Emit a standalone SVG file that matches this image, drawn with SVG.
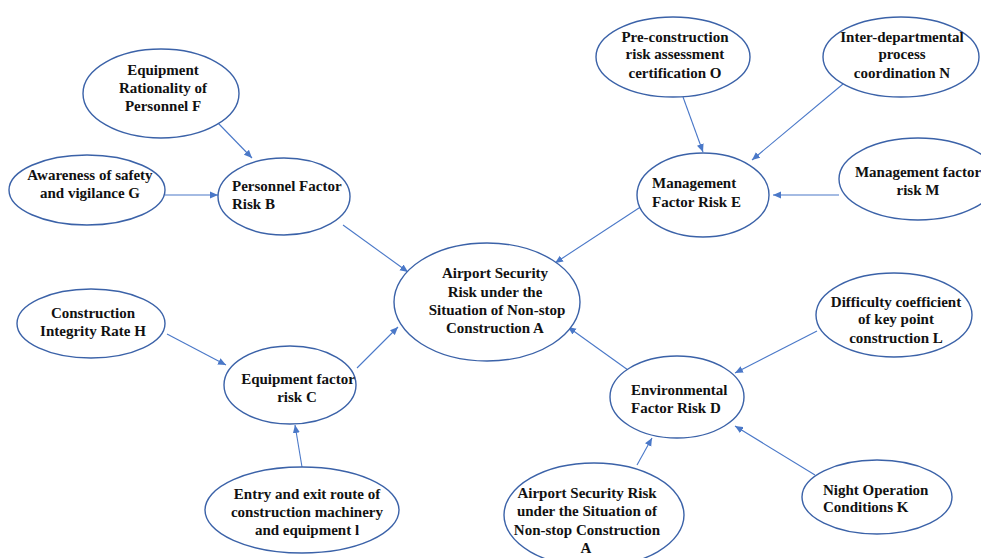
<svg xmlns="http://www.w3.org/2000/svg" width="981" height="558" viewBox="0 0 981 558">
<style>
.n ellipse{fill:#fff;stroke:#3B62A8;stroke-width:1.4}
.n text{font-family:"Liberation Serif","Times New Roman",serif;font-weight:bold;font-size:15px;fill:#111;text-anchor:middle}
.n text.l{text-anchor:start}
#edges line{stroke:#4A78C8;stroke-width:1.1;marker-end:url(#ah)}
</style>
<defs>
<marker id="ah" markerUnits="userSpaceOnUse" markerWidth="9" markerHeight="8" refX="8" refY="4" orient="auto">
<path d="M0,0.5 L8,4 L0,7.5 z" fill="#4A78C8"/>
</marker>
</defs>
<rect width="981" height="558" fill="#fff"/>
<g id="edges">
<line x1="218" y1="123" x2="252" y2="158"/>
<line x1="165" y1="195" x2="218" y2="195"/>
<line x1="343" y1="225" x2="408" y2="272"/>
<line x1="642" y1="206" x2="555" y2="263"/>
<line x1="683" y1="97" x2="703" y2="152"/>
<line x1="843" y1="84" x2="752" y2="160"/>
<line x1="839" y1="195" x2="773" y2="195"/>
<line x1="167" y1="334" x2="226" y2="365"/>
<line x1="302" y1="467" x2="295" y2="425"/>
<line x1="357" y1="368" x2="398" y2="327"/>
<line x1="628" y1="370" x2="568" y2="327"/>
<line x1="817" y1="331" x2="735" y2="373"/>
<line x1="815" y1="475" x2="735" y2="426"/>
<line x1="637" y1="465" x2="652" y2="438"/>
</g>
<g id="nodeA" class="n">
<ellipse cx="487" cy="302" rx="93" ry="59"/>
<text x="495" y="278">Airport Security</text>
<text x="495" y="297">Risk under the</text>
<text x="497" y="315">Situation of Non-stop</text>
<text x="495" y="333">Construction A</text>
</g>
<g id="nodeB" class="n">
<ellipse cx="284" cy="196.5" rx="66" ry="38.5"/>
<text class="l" x="232" y="191">Personnel Factor</text>
<text class="l" x="232" y="209">Risk B</text>
</g>
<g id="nodeC" class="n">
<ellipse cx="290" cy="385" rx="66" ry="39"/>
<text x="298" y="384">Equipment factor</text>
<text x="297" y="402">risk C</text>
</g>
<g id="nodeD" class="n">
<ellipse cx="677" cy="397" rx="67" ry="41"/>
<text class="l" x="631" y="395">Environmental</text>
<text class="l" x="631" y="413">Factor Risk D</text>
</g>
<g id="nodeE" class="n">
<ellipse cx="703" cy="195" rx="66" ry="42"/>
<text class="l" x="652" y="188">Management</text>
<text class="l" x="652" y="207">Factor Risk E</text>
</g>
<g id="nodeF" class="n">
<ellipse cx="161" cy="93.5" rx="78" ry="44.5"/>
<text x="163" y="75">Equipment</text>
<text x="163" y="93">Rationality of</text>
<text x="163" y="111">Personnel F</text>
</g>
<g id="nodeG" class="n">
<ellipse cx="87" cy="190" rx="78" ry="35"/>
<text x="90" y="180">Awareness of safety</text>
<text x="90" y="198">and vigilance G</text>
</g>
<g id="nodeH" class="n">
<ellipse cx="91" cy="323.5" rx="74" ry="34.5"/>
<text x="93" y="318">Construction</text>
<text x="93" y="336">Integrity Rate H</text>
</g>
<g id="nodeI" class="n">
<ellipse cx="302" cy="510" rx="97" ry="43"/>
<text x="307" y="499">Entry and exit route of</text>
<text x="307" y="517">construction machinery</text>
<text x="307" y="535">and equipment l</text>
</g>
<g id="nodeK" class="n">
<ellipse cx="877" cy="497" rx="75" ry="37"/>
<text class="l" x="823" y="495">Night Operation</text>
<text class="l" x="823" y="512">Conditions K</text>
</g>
<g id="nodeL" class="n">
<ellipse cx="894" cy="315" rx="78" ry="42"/>
<text x="896" y="307">Difficulty coefficient</text>
<text x="896" y="324">of key point</text>
<text x="896" y="343">construction L</text>
</g>
<g id="nodeM" class="n">
<ellipse cx="918" cy="179" rx="79" ry="41"/>
<text x="918" y="177">Management factor</text>
<text x="918" y="195">risk M</text>
</g>
<g id="nodeN" class="n">
<ellipse cx="901" cy="57" rx="78" ry="40"/>
<text x="902" y="42">Inter-departmental</text>
<text x="902" y="59">process</text>
<text x="902" y="78">coordination N</text>
</g>
<g id="nodeO" class="n">
<ellipse cx="673" cy="57" rx="77" ry="40"/>
<text x="675" y="42">Pre-construction</text>
<text x="675" y="59">risk assessment</text>
<text x="675" y="78">certification O</text>
</g>
<g id="nodeA2" class="n">
<ellipse cx="594" cy="515" rx="90" ry="52"/>
<text x="587" y="498">Airport Security Risk</text>
<text x="587" y="516">under the Situation of</text>
<text x="587" y="535">Non-stop Construction</text>
<text x="586" y="553">A</text>
</g>
</svg>
